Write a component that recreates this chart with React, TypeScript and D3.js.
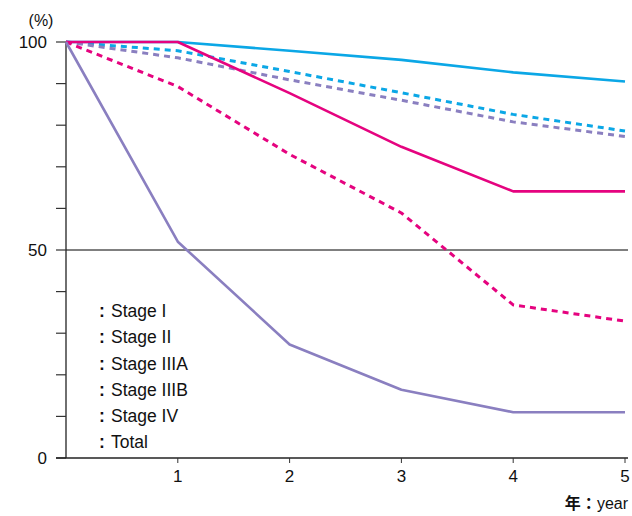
import React from "react";
import * as d3 from "d3";

const years = [0, 1, 2, 3, 4, 5];
const stageI = [100, 100, 97.9, 95.7, 92.7, 90.5];
const stageII = [100, 100, 87.7, 74.8, 64.1, 64.1];
const stageIIIA = [100, 97.9, 92.9, 87.8, 82.6, 78.6];
const stageIIIB = [100, 89.3, 73.0, 58.9, 36.8, 32.9];
const stageIV = [100, 52.0, 27.3, 16.4, 11.0, 11.0];
const total = [100, 96.2, 90.9, 86.0, 80.8, 77.3];

const legendLabels = ["Stage I", "Stage II", "Stage IIIA", "Stage IIIB", "Stage IV", "Total"];
const yTickLabels = [0, 50, 100];
const yMinorTicks = [0, 10, 20, 30, 40, 50, 60, 70, 80, 90, 100];
const xTicks = [1, 2, 3, 4, 5];

const CYAN = "#0ba7e6";
const MAGENTA = "#e5037f";
const PURPLE = "#8a7fc0";

const series = [
  { values: stageI, color: CYAN, dash: null },
  { values: stageIIIA, color: CYAN, dash: "6,5" },
  { values: total, color: PURPLE, dash: "6,5" },
  { values: stageII, color: MAGENTA, dash: null },
  { values: stageIIIB, color: MAGENTA, dash: "6,5" },
  { values: stageIV, color: PURPLE, dash: null },
];

export default function App() {
  const W = 632, H = 516;
  const x = d3.scaleLinear().domain([0, 5]).range([66, 625]);
  const y = d3.scaleLinear().domain([0, 100]).range([458, 42]);
  const font = "'Liberation Sans', Arial, Helvetica, sans-serif";
  const line = (vals: number[]) =>
    d3.line<number>().x((_, i) => x(years[i])).y((d) => y(d))(vals) || "";

  return (
    <svg width={W} height={H} style={{ position: "absolute", left: 0, top: 0, background: "#fff" }} fontFamily={font}>
      {/* gridline at 50 */}
      <line x1={x(0)} x2={628} y1={y(50)} y2={y(50)} stroke="#000" strokeWidth={1} />
      {/* y axis */}
      <line x1={x(0)} x2={x(0)} y1={y(100)} y2={y(0)} stroke="#222" strokeWidth={1.3} />
      {yMinorTicks.map((t) => (
        <line key={t} x1={x(0) - 10} x2={x(0)} y1={y(t)} y2={y(t)} stroke="#333" strokeWidth={1.2} />
      ))}
      {yTickLabels.map((t) => (
        <text key={t} x={47} y={y(t)} dy="0.35em" textAnchor="end" fontSize={17} fill="#111">
          {t}
        </text>
      ))}
      <text x={41} y={20} dy="0.35em" textAnchor="middle" fontSize={16} fill="#111">(%)</text>
      {/* x axis */}
      <line x1={x(0) - 10} x2={628} y1={y(0)} y2={y(0)} stroke="#222" strokeWidth={1.3} />
      {xTicks.map((t) => (
        <g key={t}>
          <line x1={x(t)} x2={x(t)} y1={y(0)} y2={y(0) + 5} stroke="#333" strokeWidth={1} />
          <text x={x(t)} y={y(0) + 18} dy="0.35em" textAnchor="middle" fontSize={17} fill="#111">
            {t}
          </text>
        </g>
      ))}
      <text x={628} y={509} textAnchor="end" fontSize={16} fill="#111">
        <tspan fontWeight="bold" fontFamily="'Noto Sans CJK JP', sans-serif">年：</tspan>
        <tspan>year</tspan>
      </text>
      {/* series */}
      {series.map((s, i) => (
        <path
          key={i}
          d={line(s.values)}
          fill="none"
          stroke={s.color}
          strokeWidth={s.dash ? 3 : 2.6}
          strokeDasharray={s.dash || undefined}
          strokeLinejoin="round"
        />
      ))}
      {/* legend */}
      {legendLabels.map((l, i) => (
        <g key={l}>
          <text x={99} y={311 + i * 26.2} dy="0.35em" fontSize={17.5} fontWeight="bold" fill="#111">:</text>
          <text x={111} y={311 + i * 26.2} dy="0.35em" fontSize={17.5} fill="#111">{l}</text>
        </g>
      ))}
    </svg>
  );
}
